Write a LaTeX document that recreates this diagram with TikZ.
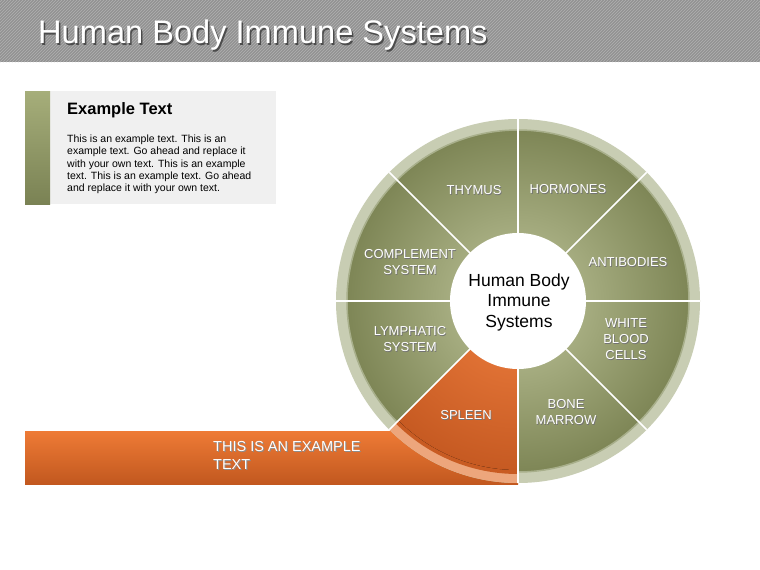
\documentclass[tikz,border=0pt]{standalone}
\usepackage{fontspec}
\setmainfont{Liberation Sans}
\usetikzlibrary{calc}
\definecolor{titlegray}{HTML}{8E8E8E}
\definecolor{stripegray}{HTML}{ABABAB}
\definecolor{boxgray}{HTML}{F0F0F0}
\definecolor{sagetop}{HTML}{A6AE7A}
\definecolor{sagebot}{HTML}{7A8254}
\definecolor{sagein}{HTML}{BFC59B}
\definecolor{sageout}{HTML}{7E8656}
\definecolor{ringcol}{HTML}{C8CDB3}
\definecolor{ringedge}{HTML}{A8AF8B}
\definecolor{orin}{HTML}{F08040}
\definecolor{orout}{HTML}{C65A22}
\definecolor{orring}{HTML}{EDA67C}
\definecolor{oredge}{HTML}{C85B22}
\definecolor{bartop}{HTML}{EE7B36}
\definecolor{barbot}{HTML}{C2581F}
\tikzset{
  lbl/.style={text=white, align=center, inner sep=0pt, font=\fontsize{13}{16}\selectfont},
  lblsh/.style={lbl, text=black!55},
  divider/.style={white, line width=1.6pt},
  titletext/.style={anchor=base west, inner sep=0pt, font=\fontsize{32.6}{36}\selectfont},
}
\newcommand\seglabel[3]{%
  \node[lblsh] (#2s) at ($(#1)+(0.8,0.8)$) {#3};
  \node[lbl] (#2) at (#1) {#3};}
\begin{document}
\begin{tikzpicture}[x=1pt,y=-1pt]
\useasboundingbox (0,0) rectangle (760,570);
\fill[white] (0,0) rectangle (760,570);
% title bar
\fill[titlegray] (0,0) rectangle (760,62);
\begin{scope}
  \clip (0,0) rectangle (760,62);
  \foreach \i in {-66,-63,...,762} \draw[stripegray, line width=0.9pt] (\i,62) -- (\i+62,0);
\end{scope}
\node[titletext, text=black!70] (titles) at (39.5,45) {Human Body Immune Systems};
\node[titletext, text=white] (title) at (38,43.5) {Human Body Immune Systems};
% text box
\fill[boxgray] (50,91) rectangle (276,204);
\shade[top color=sagetop, bottom color=sagebot] (25,91) rectangle (50,204);
\node[anchor=base west, inner sep=0pt, font=\bfseries\fontsize{16.5}{18}\selectfont] (head) at (67,114) {Example Text};
\node[anchor=north west, inner sep=0pt, align=left, font=\fontsize{10.5}{12.4}\selectfont] (body) at (67,134.5)
  {This is an example text. This is an\\example text. Go ahead and replace it\\with your own text. This is an example\\text. This is an example text. Go ahead\\and replace it with your own text.};
% orange bar
\shade[top color=bartop, bottom color=barbot] (25,431) rectangle (518,484);
% wheel
\begin{scope}[shift={(518,301)}]
  \fill[ringcol] (0,0) circle[radius=182pt];
  \fill[orring] (0,0) -- (225:182pt) arc[start angle=225, end angle=270, radius=182pt] -- cycle;
  \fill[inner color=sagein, outer color=sageout] (0,0) circle[radius=171pt];
  \draw[ringedge, line width=1.5pt] (0,0) circle[radius=171pt];
  \begin{scope}
    \clip (0,0) -- (225:182pt) arc[start angle=225, end angle=270, radius=182pt] -- cycle;
    \fill[oredge] (0,0) circle[radius=173pt];
    \fill[inner color=orin, outer color=orout] (0,0) circle[radius=169pt];
  \end{scope}
  \foreach \a in {0,45,...,315} \draw[divider] (0,0) -- (\a:182pt);
  \fill[white] (0,0) circle[radius=68pt];
\end{scope}
% labels
\seglabel{474,190}{thy}{THYMUS}
\seglabel{568,189}{hor}{HORMONES}
\seglabel{628,262}{ant}{ANTIBODIES}
\seglabel{626,339}{wbc}{WHITE\\BLOOD\\CELLS}
\seglabel{566,412}{bon}{BONE\\MARROW}
\seglabel{466,415}{spl}{SPLEEN}
\seglabel{410,339}{lym}{LYMPHATIC\\SYSTEM}
\seglabel{410,262}{com}{COMPLEMENT\\SYSTEM}
\node[align=center, inner sep=0pt, font=\fontsize{17.5}{20.5}\selectfont] (center) at (519,302) {Human Body\\Immune\\Systems};
\node[anchor=west, inner sep=0pt, align=left, text=black!45, font=\fontsize{14.5}{18}\selectfont] (bars) at (214,456) {THIS IS AN EXAMPLE\\TEXT};
\node[anchor=west, inner sep=0pt, align=left, text=white, font=\fontsize{14.5}{18}\selectfont] (bar) at (213,455) {THIS IS AN EXAMPLE\\TEXT};
\end{tikzpicture}
\end{document}
